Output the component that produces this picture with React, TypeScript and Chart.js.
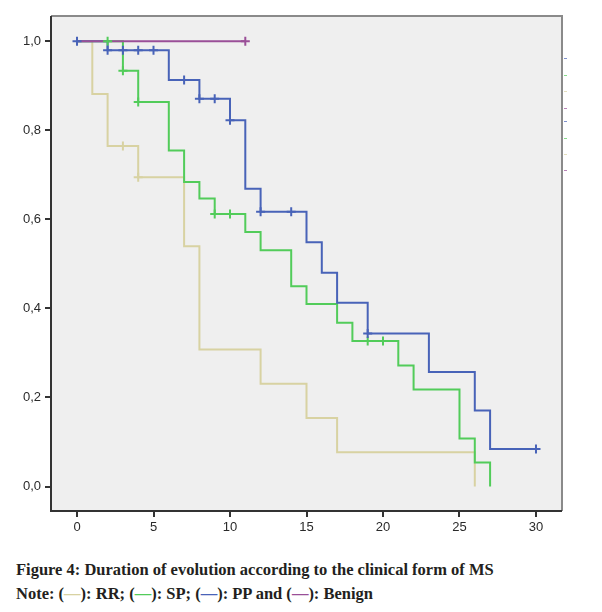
import React, { useEffect, useRef } from "react";
import { Chart, registerables } from "chart.js";

Chart.register(...registerables);

// Kaplan–Meier curves: event times and survival after each event
const rrTimes = [0, 1, 2, 4, 7, 8, 12, 15, 17, 26];
const rrSurv = [1, 0.882, 0.765, 0.695, 0.54, 0.308, 0.231, 0.154, 0.077, 0];
const rrCensor = [3, 4];

const spTimes = [0, 3, 4, 6, 7, 8, 9, 11, 12, 14, 15, 17, 18, 21, 22, 25, 26, 27];
const spSurv = [1, 0.934, 0.864, 0.755, 0.684, 0.647, 0.612, 0.572, 0.531, 0.45, 0.41, 0.368, 0.327, 0.272, 0.218, 0.108, 0.054, 0];
const spCensor = [2, 3, 4, 9, 10, 19, 20];

const ppTimes = [0, 2, 6, 8, 10, 11, 12, 15, 16, 17, 19, 23, 26, 27, 30];
const ppSurv = [1, 0.98, 0.913, 0.871, 0.823, 0.669, 0.617, 0.549, 0.48, 0.413, 0.344, 0.257, 0.171, 0.0845, 0.0845];
const ppCensor = [0, 2, 3, 4, 5, 7, 8, 9, 10, 12, 14, 19, 30];

const bnTimes = [0, 11];
const bnSurv = [1, 1];
const bnCensor = [11];

const xTicks = [0, 5, 10, 15, 20, 25, 30];
const yTicks = [0, 0.2, 0.4, 0.6, 0.8, 1.0];

const COLORS = {
  rr: "#d8d2a2",
  sp: "#52cc5a",
  pp: "#4863b8",
  bn: "#9a4f98",
};

// faint remnants of a cropped legend at the right edge
const legendRemnants = ["pp", "sp", "rr", "bn", "pp", "sp", "rr", "bn"] as const;
const legendRemnantTops = [58, 75, 91, 108, 121, 138, 154, 170];

function toPoints(times: number[], surv: number[]) {
  return times.map((t, i) => ({ x: t, y: surv[i] }));
}
function survAt(times: number[], surv: number[], t: number) {
  let v = surv[0];
  for (let i = 0; i < times.length; i++) if (times[i] <= t) v = surv[i];
  return v;
}
function censorPoints(times: number[], surv: number[], c: number[]) {
  return c.map((t) => ({ x: t, y: survAt(times, surv, t) }));
}

function curve(label: string, data: any[], color: string) {
  return {
    label,
    data,
    borderColor: color,
    backgroundColor: color,
    borderWidth: 2,
    pointRadius: 0,
    stepped: "before" as const,
    fill: false,
    tension: 0,
  };
}
function marks(label: string, data: any[], color: string) {
  return {
    label,
    data,
    borderColor: color,
    backgroundColor: color,
    showLine: false,
    pointStyle: "cross" as const,
    pointRadius: 4.5,
    pointBorderWidth: 2,
  };
}

const framePlugin = {
  id: "frame",
  beforeDraw(chart: any) {
    const { ctx, chartArea: a } = chart;
    ctx.save();
    ctx.fillStyle = "#efefef";
    ctx.fillRect(a.left, a.top, a.right - a.left, a.bottom - a.top);
    ctx.restore();
  },
  beforeDatasetsDraw(chart: any) {
    const { ctx, chartArea: a } = chart;
    ctx.save();
    ctx.lineWidth = 2;
    ctx.strokeStyle = "#8a8a8a";
    ctx.beginPath();
    ctx.moveTo(a.left, a.top);
    ctx.lineTo(a.right, a.top);
    ctx.lineTo(a.right, a.bottom);
    ctx.stroke();
    ctx.strokeStyle = "#333";
    ctx.beginPath();
    ctx.moveTo(a.left, a.top);
    ctx.lineTo(a.left, a.bottom);
    ctx.lineTo(a.right, a.bottom);
    ctx.stroke();
    ctx.restore();
  },
};

export default function App() {
  const ref = useRef<HTMLCanvasElement | null>(null);
  useEffect(() => {
    if (!ref.current) return;
    const chart = new Chart(ref.current, {
      type: "line",
      data: {
        datasets: [
          marks("PP censored", censorPoints(ppTimes, ppSurv, ppCensor), COLORS.pp),
          marks("SP censored", censorPoints(spTimes, spSurv, spCensor), COLORS.sp),
          marks("RR censored", censorPoints(rrTimes, rrSurv, rrCensor), COLORS.rr),
          marks("Benign censored", censorPoints(bnTimes, bnSurv, bnCensor), COLORS.bn),
          curve("Benign", toPoints(bnTimes, bnSurv), COLORS.bn),
          curve("PP", toPoints(ppTimes, ppSurv), COLORS.pp),
          curve("SP", toPoints(spTimes, spSurv), COLORS.sp),
          curve("RR", toPoints(rrTimes, rrSurv), COLORS.rr),
        ] as any,
      },
      options: {
        animation: false,
        responsive: false,
        maintainAspectRatio: false,
        layout: { padding: { top: 16, left: 0, right: 40, bottom: 0 } },
        plugins: { legend: { display: false }, tooltip: { enabled: false } },
        scales: {
          x: {
            type: "linear",
            min: -1.7,
            max: 31.7,
            afterFit: (s: any) => {
              s.height = 29;
            },
            afterBuildTicks: (s: any) => {
              s.ticks = xTicks.map((v) => ({ value: v }));
            },
            border: { display: false },
            grid: { drawOnChartArea: false, drawTicks: true, tickLength: 6, color: "#333", lineWidth: 2 },
            ticks: {
              color: "#2a2a2a",
              font: { family: "Liberation Sans, Arial, sans-serif", size: 13 },
              padding: 3,
              maxRotation: 0,
              callback: (v: any) => String(v),
            },
          },
          y: {
            type: "linear",
            min: -0.055,
            max: 1.057,
            afterFit: (s: any) => {
              s.width = 51;
            },
            afterBuildTicks: (s: any) => {
              s.ticks = yTicks.map((v) => ({ value: v }));
            },
            border: { display: false },
            grid: { drawOnChartArea: false, drawTicks: true, tickLength: 6, color: "#333", lineWidth: 2 },
            ticks: {
              color: "#2a2a2a",
              font: { family: "Liberation Sans, Arial, sans-serif", size: 13 },
              padding: 4,
              callback: (v: any) => Number(v).toFixed(1).replace(".", ","),
            },
          },
        },
      } as any,
      plugins: [framePlugin],
    });
    return () => chart.destroy();
  }, []);

  const dash = (c: string) => <span style={{ color: c }}>—</span>;
  return (
    <div style={{ position: "fixed", left: 0, top: 0, width: 602, height: 612, background: "#fff" }}>
      <canvas ref={ref} width={602} height={540} style={{ position: "absolute", left: 0, top: 0, width: 602, height: 540 }} />
      {legendRemnants.map((k, i) => (
        <div
          key={i}
          style={{
            position: "absolute",
            left: 564,
            top: legendRemnantTops[i],
            width: 3,
            height: 1,
            background: COLORS[k],
            opacity: 0.7,
          }}
        />
      ))}
      <div
        style={{
          position: "absolute",
          left: 16,
          top: 558,
          fontFamily: "'Liberation Serif', 'Times New Roman', serif",
          fontWeight: "bold",
          fontSize: 16.5,
          lineHeight: "23.5px",
          color: "#231f20",
          whiteSpace: "nowrap",
        }}
      >
        <div>Figure 4: Duration of evolution according to the clinical form of MS</div>
        <div>
          Note: ({dash(COLORS.rr)}): RR; ({dash(COLORS.sp)}): SP; ({dash(COLORS.pp)}): PP and ({dash(COLORS.bn)}): Benign
        </div>
      </div>
    </div>
  );
}
